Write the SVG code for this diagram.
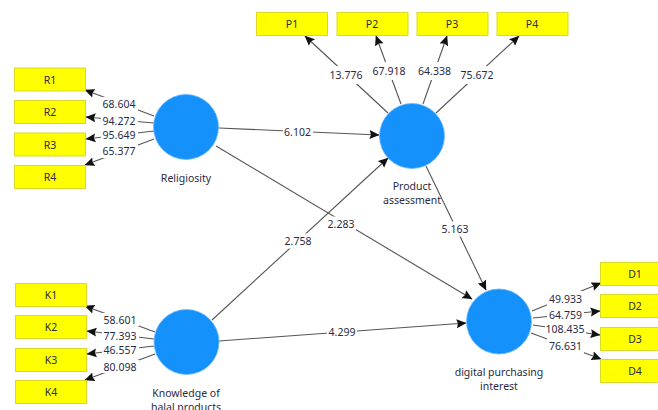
<svg xmlns="http://www.w3.org/2000/svg" width="658" height="410" viewBox="0 0 658 410">
<style>
text{font-family:"Noto Sans","Liberation Sans",sans-serif;font-size:10.5px;fill:#2a2a44;text-anchor:middle}
.c{stroke:#555;stroke-width:1.1;fill:none;marker-end:url(#a)}
.b{fill:#ffff00;stroke:#d9d92a;stroke-width:1}
.n{fill:#1591fb;stroke:#6db8fb;stroke-width:.8}
.w{fill:#fff}
</style>
<defs><marker id="a" markerUnits="userSpaceOnUse" markerWidth="11" markerHeight="11" refX="9.5" refY="5" orient="auto"><path d="M0 0.500L10 5L0 9.500L1.500 5Z" fill="#111"/></marker></defs>
<rect width="658" height="410" fill="#fff"/>
<g id="connectors">
<path class="c" d="M154 116L85 90"/><path class="c" d="M154 123L86 117"/><path class="c" d="M154 131L86 139"/><path class="c" d="M154 139L85 165"/>
<path class="c" d="M155 332L85 306"/><path class="c" d="M154 339L87 331"/><path class="c" d="M154 346L87 354"/><path class="c" d="M155 354L85 380"/>
<path class="c" d="M532 311L601 283"/><path class="c" d="M533 318L600 311"/><path class="c" d="M533 325L600 335"/><path class="c" d="M531 333L601 359"/>
<path class="c" d="M388 113L305 36"/><path class="c" d="M401 104L376 36"/><path class="c" d="M423 104L447 36"/><path class="c" d="M436 113L519 36"/>
<path class="c" d="M219 128L379 135"/><path class="c" d="M216 146L472 299"/><path class="c" d="M212 320L388 158"/><path class="c" d="M219 341L466 323"/><path class="c" d="M426 166L486 290"/>
<g class="w">
<rect x="101" y="97" width="37" height="14"/><rect x="101" y="114.500" width="37" height="13"/><rect x="101" y="129" width="37" height="13"/><rect x="101" y="144" width="37" height="14"/>
<rect x="102" y="313" width="37" height="13"/><rect x="102" y="329.500" width="37" height="13"/><rect x="102" y="344" width="37" height="13"/><rect x="102" y="360" width="37" height="13"/>
<rect x="547" y="291" width="37" height="15"/><rect x="547" y="308" width="37" height="13"/><rect x="545" y="322.500" width="41" height="13"/><rect x="547" y="338" width="37" height="15"/>
<rect x="328" y="66" width="37" height="18"/><rect x="371" y="62" width="37" height="18"/><rect x="416" y="62" width="37" height="18"/><rect x="459" y="66" width="37" height="18"/>
<rect x="283" y="125" width="30" height="13"/><rect x="326" y="216.500" width="30" height="15"/><rect x="283" y="233.500" width="30" height="15"/><rect x="327" y="325.500" width="30" height="13"/><rect x="440" y="221.500" width="30" height="15"/>
</g>
<text x="119" y="108">68.604</text><text x="119" y="125">94.272</text><text x="119" y="139">95.649</text><text x="119" y="155">65.377</text>
<text x="120" y="323.500">58.601</text><text x="120" y="340">77.393</text><text x="120" y="354">46.557</text><text x="120" y="370.500">80.098</text>
<text x="565.500" y="302.500">49.933</text><text x="565.500" y="318.500">64.759</text><text x="565" y="333">108.435</text><text x="565.500" y="349.500">76.631</text>
<text x="346" y="79">13.776</text><text x="389" y="75">67.918</text><text x="434.500" y="75">64.338</text><text x="477" y="79">75.672</text>
<text x="297.500" y="135.500">6.102</text><text x="341" y="228">2.283</text><text x="298" y="245">2.758</text><text x="342" y="336">4.299</text><text x="455" y="233">5.163</text>
</g>
<g id="R1"><rect class="b" x="14.500" y="68" width="71" height="23"/><text x="50" y="83.500">R1</text></g>
<g id="R2"><rect class="b" x="14.500" y="100.500" width="71" height="23"/><text x="50" y="116">R2</text></g>
<g id="R3"><rect class="b" x="14.500" y="133" width="71" height="23"/><text x="50" y="148.500">R3</text></g>
<g id="R4"><rect class="b" x="14.500" y="165.500" width="71" height="23"/><text x="50" y="181">R4</text></g>
<g id="K1"><rect class="b" x="15.500" y="283.500" width="71" height="23"/><text x="51" y="299">K1</text></g>
<g id="K2"><rect class="b" x="15.500" y="315.500" width="71" height="23"/><text x="51" y="331">K2</text></g>
<g id="K3"><rect class="b" x="15.500" y="348.500" width="71" height="23"/><text x="51" y="364">K3</text></g>
<g id="K4"><rect class="b" x="15.500" y="380.500" width="71" height="23"/><text x="51" y="396">K4</text></g>
<g id="D1"><rect class="b" x="600.500" y="262.500" width="71" height="23"/><text x="635" y="278">D1</text></g>
<g id="D2"><rect class="b" x="600.500" y="294.500" width="71" height="23"/><text x="635" y="310">D2</text></g>
<g id="D3"><rect class="b" x="600.500" y="327.500" width="71" height="23"/><text x="635" y="343">D3</text></g>
<g id="D4"><rect class="b" x="600.500" y="359.500" width="71" height="23"/><text x="635" y="375">D4</text></g>
<g id="P1"><rect class="b" x="256.500" y="12.500" width="71" height="23"/><text x="292" y="28">P1</text></g>
<g id="P2"><rect class="b" x="337" y="12.500" width="71" height="23"/><text x="372" y="28">P2</text></g>
<g id="P3"><rect class="b" x="417" y="12.500" width="71" height="23"/><text x="452" y="28">P3</text></g>
<g id="P4"><rect class="b" x="497" y="12.500" width="71" height="23"/><text x="532" y="28">P4</text></g>
<g id="Religiosity"><circle class="n" cx="186" cy="127" r="32.500"/><text x="186" y="182">Religiosity</text></g>
<g id="Product"><circle class="n" cx="412" cy="136" r="32.500"/><text x="412" y="190">Product</text><text x="412" y="204">assessment</text></g>
<g id="Knowledge"><circle class="n" cx="186.500" cy="342" r="32.500"/><text x="186" y="397">Knowledge of</text><text x="186" y="411">halal products</text></g>
<g id="Digital"><circle class="n" cx="499" cy="321.500" r="32.500"/><text x="499" y="376">digital purchasing</text><text x="499" y="390">interest</text></g>
</svg>
